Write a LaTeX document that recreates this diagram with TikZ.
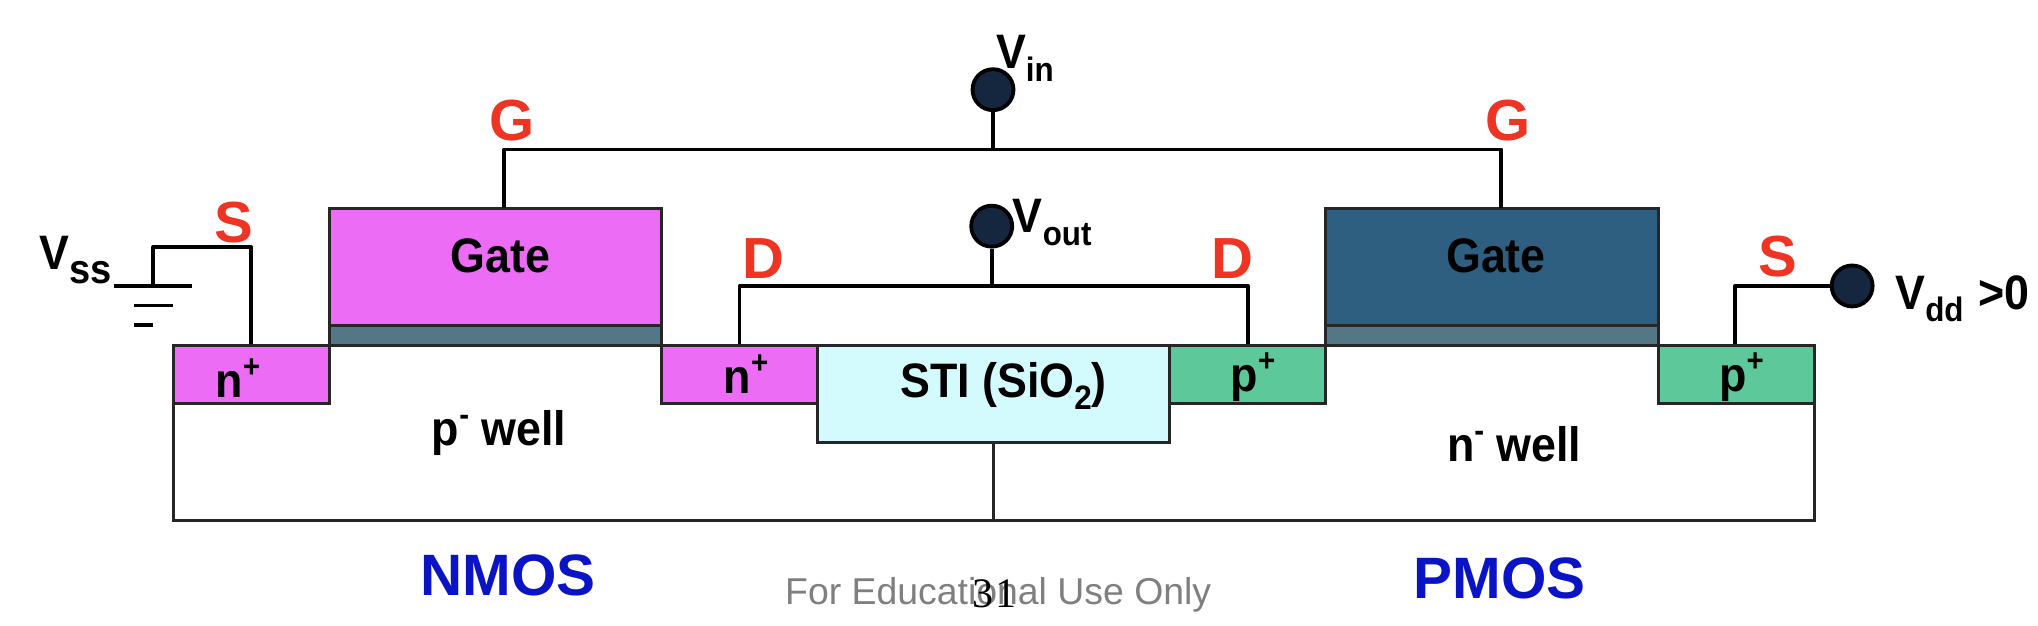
\documentclass[tikz,border=0pt]{standalone}
\usepackage{fontspec}
\usepackage{graphicx}
\setmainfont{Liberation Sans}
\newfontfamily\numfont{Liberation Serif}
\newcommand{\subt}[1]{\raisebox{-0.26em}{\scalebox{0.7}{#1}}}
\newcommand{\supt}[1]{\raisebox{0.42em}{\scalebox{0.66}{#1}}}
\newcommand{\tl}[1]{\scalebox{1}[1.08]{#1}}
\definecolor{nmagenta}{HTML}{EC6CF6}
\definecolor{pgreen}{HTML}{5DC99A}
\definecolor{gatedark}{HTML}{2E5F80}
\definecolor{oxide}{HTML}{537786}
\definecolor{stifill}{HTML}{D3FBFD}
\definecolor{terminal}{HTML}{15263F}
\definecolor{labelred}{HTML}{EE3524}
\definecolor{labelblue}{HTML}{0A14C4}
\definecolor{footgrey}{HTML}{7F7F7F}
\tikzset{
  region/.style n args={3}{draw=black!85,line width=1.5pt,fill=#1,inner sep=0pt,anchor=north west,
    minimum width=#2*0.65pt,minimum height=#3*0.65pt},
  wire/.style={draw=black,line width=1.9pt},
  terminalnode/.style={circle,draw=black,line width=1.9pt,fill=terminal,inner sep=0pt,minimum size=20.5pt},
  dev/.style={font=\bfseries\fontsize{22.4}{26}\selectfont,text=black,inner sep=0pt},
  term/.style={font=\bfseries\fontsize{29}{32}\selectfont,text=labelred,inner sep=0pt},
  mos/.style={font=\bfseries\fontsize{29.2}{34}\selectfont,text=labelblue,inner sep=0pt},
  foot/.style={font=\fontsize{18.7}{22}\selectfont,text=footgrey,inner sep=0pt},
}
\begin{document}
\begin{tikzpicture}[x=0.65pt,y=-0.65pt]
\useasboundingbox (0,0) rectangle (1568,481.6);
% wells
\node[region={white}{631}{135}] (pwell) at (132.5,264.5) {};
\node[region={white}{631}{135}] (nwell) at (763.5,264.5) {};
% diffusions
\node[region={nmagenta}{120}{45}] (nleft) at (132.5,264.5) {};
\node[region={nmagenta}{120}{45}] (nmid) at (507.5,264.5) {};
\node[region={pgreen}{120}{45}] (pmid) at (898.5,264.5) {};
\node[region={pgreen}{120}{45}] (pright) at (1274.5,264.5) {};
\node[region={stifill}{271}{75}] (sti) at (627.5,264.5) {};
% gates
\node[region={oxide}{255}{15}] (oxl) at (252.5,249.5) {};
\node[region={oxide}{256}{15}] (oxr) at (1018.5,249.5) {};
\node[region={nmagenta}{255}{90}] (gatel) at (252.5,159.5) {};
\node[region={gatedark}{256}{90}] (gater) at (1018.5,159.5) {};
% terminals
\node[terminalnode] (vin) at (764,69) {};
\node[terminalnode] (vout) at (763,174) {};
\node[terminalnode] (vdd) at (1425,220) {};
% wire junctions
\coordinate (gbar) at (764,115);
\coordinate (gla) at (388,115);
\coordinate (gra) at (1155,115);
\coordinate (glb) at (388,160);
\coordinate (grb) at (1155,160);
\coordinate (dbar) at (763,220);
\coordinate (dla) at (569,220);
\coordinate (dra) at (960,220);
\coordinate (dlb) at (569,265);
\coordinate (drb) at (960,265);
\coordinate (sla) at (193,265);
\coordinate (slb) at (193,190);
\coordinate (slc) at (118,190);
\coordinate (sld) at (118,220);
\coordinate (sra) at (1335,265);
\coordinate (srb) at (1335,220);
\coordinate (g1a) at (88,220);\coordinate (g1b) at (148,220);
\coordinate (g2a) at (103,235);\coordinate (g2b) at (133,235);
\coordinate (g3a) at (103,250);\coordinate (g3b) at (118,250);
\draw[wire] (vin) -- (gbar);
\draw[wire,line join=round] (glb) -- (gla) -- (gra) -- (grb);
\draw[wire] (vout) -- (dbar);
\draw[wire,line join=round] (dlb) -- (dla) -- (dra) -- (drb);
\draw[wire,line join=round] (sla) -- (slb) -- (slc) -- (sld);
\draw[wire,line join=round] (sra) -- (srb) -- (vdd);
\draw[wire] (g1a) -- (g1b);
\draw[wire] (g2a) -- (g2b);
\draw[wire] (g3a) -- (g3b);
% labels
\node[dev] (tgl) at (385,197) {\tl{Gate}};
\node[dev] (tgr) at (1151,197) {\tl{Gate}};
\node[dev] (tnl) at (183,291) {\tl{n\supt{+}}};
\node[dev] (tnm) at (574,288) {\tl{n\supt{+}}};
\node[dev] (tpm) at (964,290) {\tl{p\supt{+}}};
\node[dev] (tpr) at (1340,290) {\tl{p\supt{+}}};
\node[dev] (tsti) at (772,297) {\tl{STI (SiO\subt{2})}};
\node[dev] (tpw) at (384,333) {\tl{p\supt{-} well}};
\node[dev] (tnw) at (1165,342) {\tl{n\supt{-} well}};
\node[dev,anchor=west] (tvin) at (766,45) {\tl{V\subt{in}}};
\node[dev,anchor=west] (tvout) at (779,171) {\tl{V\subt{out}}};
\node[dev,anchor=west] (tvss) at (30,200) {\tl{V\raisebox{-0.28em}{\scalebox{0.85}{ss}}}};
\node[dev,anchor=west] (tvdd) at (1458,230) {\tl{V\subt{dd}\,\,>0}};
\node[term] (lgl) at (394,93) {G};
\node[term] (lgr) at (1160,93) {G};
\node[term] (lsl) at (180,171) {S};
\node[term] (lsr) at (1368,197) {S};
\node[term] (ldl) at (587,199) {D};
\node[term] (ldr) at (948,199) {D};
\node[mos] (nmos) at (391,443) {NMOS};
\node[mos] (pmos) at (1154,445) {PMOS};
\node[foot] (footer) at (768,458) {For Educational Use Only};
\node[inner sep=0pt,font=\numfont\fontsize{21}{24}\selectfont] (pagenum) at (765.5,457) {3\kern1pt 1};
\end{tikzpicture}
\end{document}
